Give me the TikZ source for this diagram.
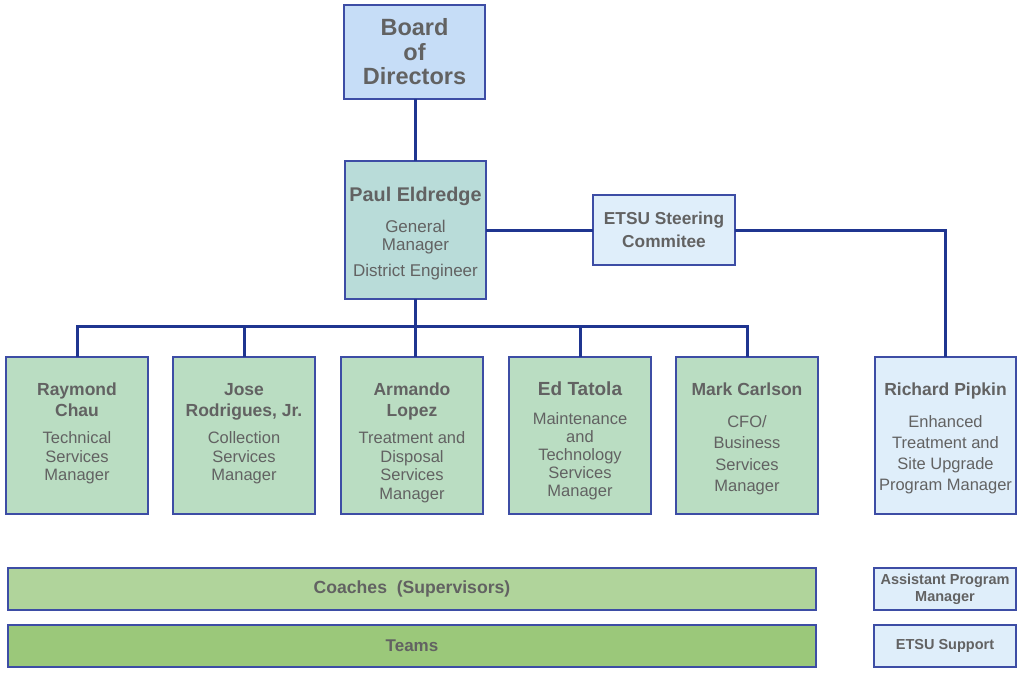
\documentclass[tikz,border=0pt]{standalone}
\usepackage{fontspec}
\setmainfont{Liberation Sans}
\definecolor{bordc}{HTML}{3D4DA5}
\definecolor{linec}{HTML}{1F3590}
\definecolor{txtc}{HTML}{626262}
\definecolor{boardc}{HTML}{C6DDF7}
\definecolor{paulc}{HTML}{B9DCD9}
\definecolor{paleb}{HTML}{DFEEFA}
\definecolor{mgrc}{HTML}{BADDC2}
\definecolor{coachc}{HTML}{B0D49B}
\definecolor{teamc}{HTML}{9BC87A}
\newcommand\tbox[3]{\parbox[c][#2][t]{#1}{\centering #3}}
\newcommand\NameLines[2][17.5pt]{{\fontsize{#1}{21pt}\selectfont\bfseries\rule{0pt}{38pt}#2\par}}
\newcommand\RoleLines[3]{\vspace{#1}{\fontsize{16.5pt}{#2}\selectfont #3\par}}
\tikzset{
  boxbase/.style={draw=bordc, line width=1.5pt, inner sep=0pt, outer sep=0pt, text=txtc, anchor=center},
  conn/.style={draw=linec, line width=3pt}
}
\begin{document}
\begin{tikzpicture}[x=1pt,y=-1pt]
\useasboundingbox (0,0) rectangle (1024,673);

% top
\node[boxbase, fill=boardc] (board) at (414.5,52) {\tbox{141pt}{94pt}{%
  {\fontsize{23.5pt}{24.5pt}\selectfont\bfseries\rule{0pt}{30.5pt}Board\\of\\Directors\par}}};
\node[boxbase, fill=paulc] (paul) at (415.5,230) {\tbox{141pt}{138pt}{%
  {\fontsize{19.8pt}{22pt}\selectfont\bfseries\rule{0pt}{40pt}Paul Eldredge\par}%
  \vspace{12.5pt}{\fontsize{17pt}{18.5pt}\selectfont General\\Manager\par}%
  \vspace{7.5pt}{\fontsize{17pt}{18.5pt}\selectfont District Engineer\par}}};
\node[boxbase, fill=paleb] (etsu) at (664,230) {\tbox{142pt}{70pt}{%
  {\fontsize{17.3pt}{23pt}\selectfont\bfseries\rule{0pt}{29pt}ETSU Steering\\Commitee\par}}};

% managers
\node[boxbase, fill=mgrc] (ray) at (77,435.5) {\tbox{142pt}{157pt}{%
  \NameLines{Raymond\\Chau}\RoleLines{9pt}{18.5pt}{Technical\\Services\\Manager}}};
\node[boxbase, fill=mgrc] (jose) at (244,435.5) {\tbox{142pt}{157pt}{%
  \NameLines{Jose\\Rodrigues, Jr.}\RoleLines{9pt}{18.5pt}{Collection\\Services\\Manager}}};
\node[boxbase, fill=mgrc] (arm) at (412,435.5) {\tbox{142pt}{157pt}{%
  \NameLines{Armando\\Lopez}\RoleLines{9pt}{18.5pt}{Treatment and\\Disposal\\Services\\Manager}}};
\node[boxbase, fill=mgrc] (ed) at (580,435.5) {\tbox{142pt}{157pt}{%
  \NameLines[19pt]{Ed Tatola}\RoleLines{11pt}{18pt}{Maintenance\\and\\Technology\\Services\\Manager}}};
\node[boxbase, fill=mgrc] (mark) at (747,435.5) {\tbox{142pt}{157pt}{%
  \NameLines{Mark Carlson}\RoleLines{10.5pt}{21.5pt}{CFO/\\Business\\Services\\Manager}}};
\node[boxbase, fill=paleb] (rich) at (945.5,435.5) {\tbox{141pt}{157pt}{%
  \NameLines{Richard Pipkin}\RoleLines{10.7pt}{21.3pt}{Enhanced\\Treatment and\\Site Upgrade\\Program Manager}}};

% bottom bars
\node[boxbase, fill=coachc, minimum width=808pt, minimum height=42pt, font=\fontsize{17.6pt}{20pt}\selectfont\bfseries] (coach) at (412,589) {Coaches\ \ (Supervisors)};
\node[boxbase, fill=teamc, minimum width=808pt, minimum height=42pt, font=\fontsize{17pt}{20pt}\selectfont\bfseries] (teams) at (412,646) {Teams};
\node[boxbase, fill=paleb, minimum width=142pt, minimum height=42pt, align=center, font=\fontsize{14.5pt}{17pt}\selectfont\bfseries] (apm) at (945,589) {Assistant Program\\Manager};
\node[boxbase, fill=paleb, minimum width=142pt, minimum height=42pt, font=\fontsize{14.5pt}{17pt}\selectfont\bfseries] (esup) at (945,646) {ETSU Support};

% connectors
\coordinate (bus) at (415.5,326);
\draw[conn] (paul.north) -- (paul.north |- board.south);
\draw[conn] (paul.south) -- (paul.south |- arm.north);
\draw[conn] (ray.north) |- (bus) -| (mark.north);
\draw[conn] (jose.north) -- (jose.north |- bus);
\draw[conn] (ed.north) -- (ed.north |- bus);
\draw[conn] (paul.east) -- (etsu.west);
\draw[conn] (etsu.east) -| (rich.north);
\end{tikzpicture}
\end{document}
